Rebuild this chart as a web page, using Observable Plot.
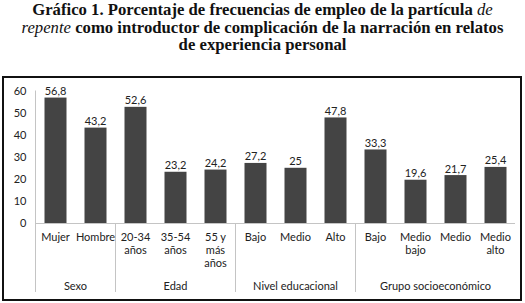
<!DOCTYPE html>
<html>
<head>
<meta charset="utf-8">
<script src="https://cdn.jsdelivr.net/npm/d3@7"></script>
<script src="https://cdn.jsdelivr.net/npm/@observablehq/plot@0.6"></script>
<style>
  html, body { margin: 0; padding: 0; background: #fff; }
  body { width: 525px; height: 303px; position: relative; overflow: hidden; }
  #title { position: absolute; left: 0; top: 1px; width: 525px; text-align: center;
           font-family: "Liberation Serif", "DejaVu Serif", serif; font-weight: bold;
           font-size: 16.7px; line-height: 17.5px; color: #111; }
  #box { position: absolute; left: 2px; top: 76px; width: 516px; height: 221px;
         border: 2px solid #111; }
  #chart { position: absolute; left: 0; top: 77px; }
</style>
</head>
<body>
<div id="title">Gráfico 1. Porcentaje de frecuencias de empleo de la partícula <i style="font-weight:normal">de</i><br><i style="font-weight:normal">repente</i> como introductor de complicación de la narración en relatos<br>de experiencia personal</div>
<div id="box"></div>
<div id="chart"></div>
<script>
const groups = ["Sexo","Sexo","Edad","Edad","Edad","Nivel educacional","Nivel educacional","Nivel educacional","Grupo socioeconómico","Grupo socioeconómico","Grupo socioeconómico","Grupo socioeconómico"];
const categories = ["Mujer","Hombre","20-34\naños","35-54\naños","55 y\nmás\naños","Bajo","Medio","Alto","Bajo","Medio\nbajo","Medio","Medio\nalto"];
const values = [56.8,43.2,52.6,23.2,24.2,27.2,25,47.8,33.3,19.6,21.7,25.4];
const yTicks = [0,10,20,30,40,50,60];

const data = values.map((v, i) => ({i, value: v, category: categories[i], group: groups[i]}));
const groupInfo = [];
groups.forEach((g, i) => {
  const last = groupInfo[groupInfo.length - 1];
  if (last && last.group === g) last.end = i + 1;
  else groupInfo.push({group: g, start: i, end: i + 1});
});

const fmt = v => String(v).replace(".", ",");
const font = "Lato, 'Open Sans', sans-serif";

const chart = Plot.plot({
  width: 525,
  height: 226,
  marginLeft: 35,
  marginRight: 10,
  marginTop: 13.5,
  marginBottom: 80,
  style: {fontFamily: font, fontSize: "11px", color: "#222", background: "transparent"},
  x: {domain: [0, values.length], axis: null},
  y: {domain: [0, 60], axis: null},
  marks: [
    Plot.rectY(data, {x1: "i", x2: d => d.i + 1, y1: 0, y2: "value", insetLeft: 9.5, insetRight: 8.5, fill: "#444"}),
    Plot.ruleY([0], {stroke: "#c4c4c4", strokeWidth: 1}),
    Plot.ruleX(groupInfo, {x: "start", y1: d => d.start === 0 ? 60 : 0, y2: 0, insetBottom: -69, stroke: "#c4c4c4", strokeWidth: 1}),
    Plot.axisY({ticks: yTicks, tickSize: 0, tickPadding: 9, fontSize: 11, fill: "#222", label: null}),
    Plot.text(data, {x: d => d.i + 0.5, y: "value", text: d => fmt(d.value), lineAnchor: "bottom", dy: -3, fontSize: 11, fill: "#222"}),
    Plot.text(data, {x: d => d.i + 0.5, y: 0, text: "category", lineAnchor: "top", dy: 8, lineHeight: 1.2, fontSize: 11, fill: "#222"}),
    Plot.text(groupInfo, {x: d => (d.start + d.end) / 2, y: 0, text: "group", dy: 63, fontSize: 11, fill: "#222"})
  ]
});
document.getElementById("chart").append(chart);
</script>
</body>
</html>
